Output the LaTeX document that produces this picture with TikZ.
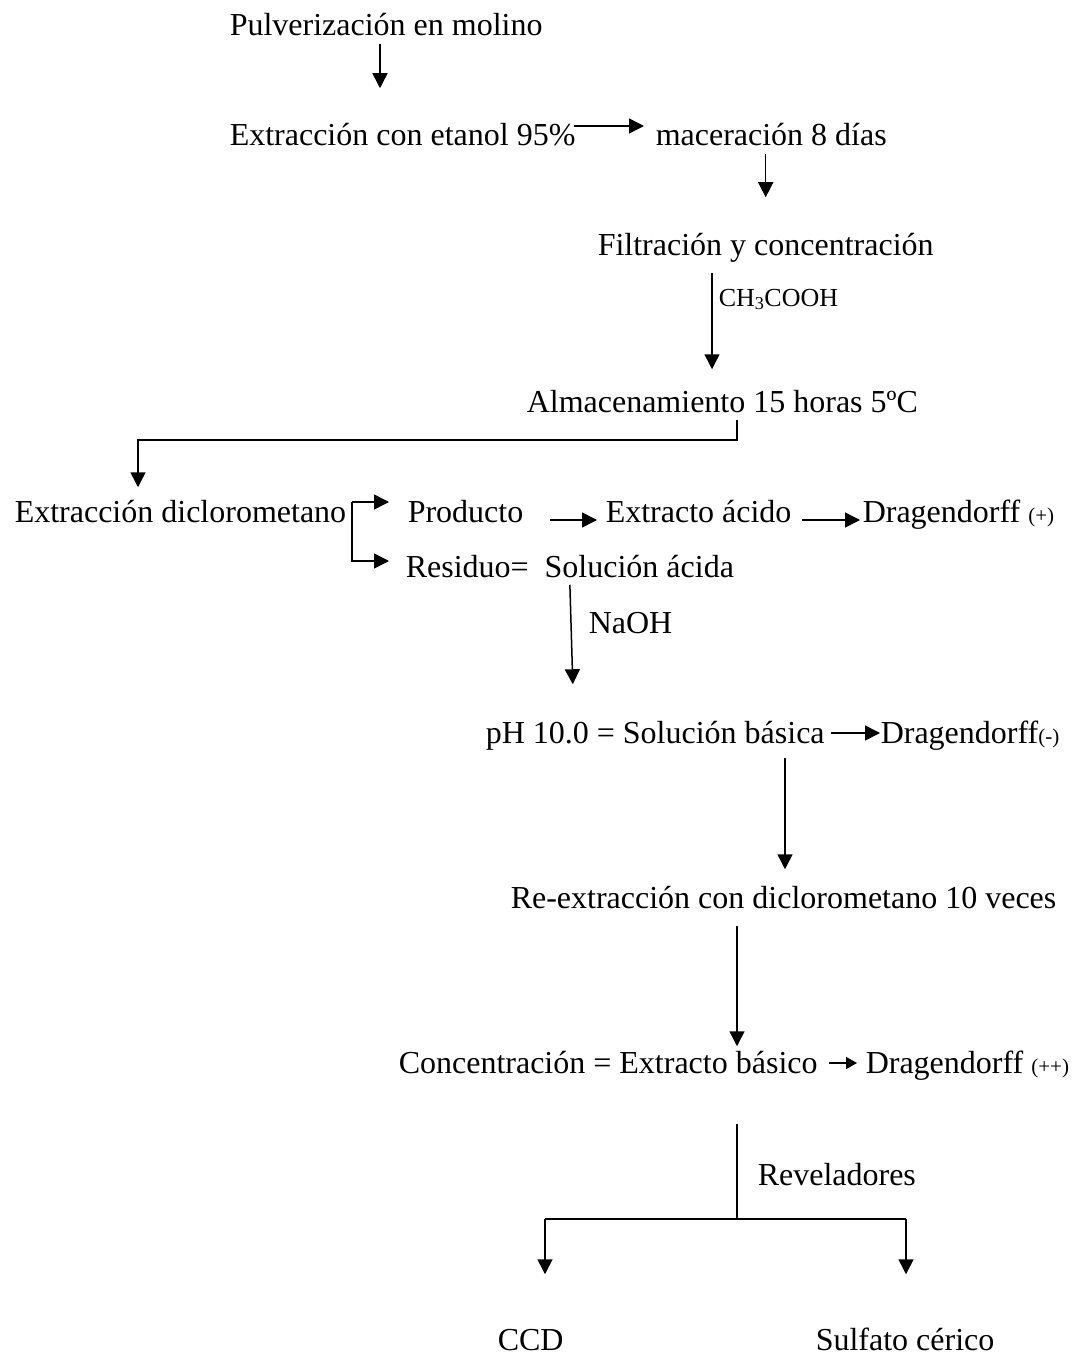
\documentclass[tikz,border=0pt]{standalone}
\usepackage{fontspec}
\setmainfont{Liberation Serif}
\usetikzlibrary{arrows.meta}
\newcommand{\signo}[1]{{\fontsize{21}{24}\selectfont #1}}
\begin{document}
\begin{tikzpicture}[
        x=1pt, y=-1pt,
        txt/.style = {anchor=base west, inner sep=0pt, text height=23pt, text depth=7pt, font=\fontsize{32}{38}\selectfont},
        lbl/.style = {anchor=base west, inner sep=0pt, font=\fontsize{26}{30}\selectfont},
        arr/.style = {-{Triangle[length=15pt,width=15pt]}},
        arrsmall/.style = {-{Triangle[length=11pt,width=12pt]}},
        line width=1.5pt
    ]
        \useasboundingbox (0,0) rectangle (1085,1356);
        % pasos
        \node[txt] (pulv) at (229,36) {Pulverización en molino};
        \node[txt] (extr) at (229,146) {Extracción con etanol 95\%};
        \node[txt] (mace) at (655,146) {maceración 8 días};
        \node[txt] (filt) at (597,255) {Filtración y concentración};
        \node[txt] (almac) at (526,412) {Almacenamiento 15 horas 5ºC};
        \node[txt] (dicl) at (14,522) {Extracción diclorometano};
        \node[txt] (prod) at (407,522) {Producto};
        \node[txt] (exac) at (605,522) {Extracto ácido};
        \node[txt] (drag1) at (862,522) {Dragendorff \signo{(+)}};
        \node[txt] (resid) at (405,577) {Residuo=\hspace{16pt}Solución ácida};
        \node[txt] (ph) at (485,743) {pH 10.0 = Solución básica};
        \node[txt] (drag2) at (880,743) {Dragendorff\signo{(-)}};
        \node[txt] (reext) at (510,908) {Re-extracción con diclorometano 10 veces};
        \node[txt] (conc) at (398,1073) {Concentración = Extracto básico};
        \node[txt] (drag3) at (865,1073) {Dragendorff \signo{(++)}};
        \node[txt] (ccd) at (497,1350) {CCD};
        \node[txt] (sulf) at (815,1350) {Sulfato cérico};
        % reactivos
        \node[lbl] (acet) at (718,306) {CH\textsubscript{3}COOH};
        \node[txt] (naoh) at (588,633) {NaOH};
        \node[txt] (revel) at (757,1185) {Reveladores};
        % columnas y quiebres
        \coordinate (col1) at (380,0);
        \coordinate (col2) at (712,0);
        \coordinate (col3) at (785,0);
        \coordinate (col4) at (737,0);
        \coordinate (k1) at (737,440);
        \coordinate (k2) at (138,440);
        \coordinate (br1) at (352,502);
        \coordinate (br2) at (352,561);
        \coordinate (fork) at (737,1219);
        \coordinate (forkL) at (545,1219);
        \coordinate (forkR) at (906,1219);
        % flechas
        \draw[arr, shorten >=34pt] (pulv.south -| col1) -- (extr.north -| col1);
        \draw[arr, shorten <=-2pt, shorten >=11pt] ([yshift=12pt]extr.east) -- ([yshift=12pt]extr.east -| mace.west);
        \draw[arr, shorten >=34pt] (mace.south -| filt.north) -- (filt.north);
        \draw[arr, shorten <=10pt, shorten >=19pt] (filt.south -| col2) -- (almac.north -| col2);
        \draw[arr, shorten >=11pt] (almac.south -| k1) -- (k1) -- (k2) -- (dicl.north -| k2);
        \draw[arr, shorten >=18pt] (br1) -- (br1 -| prod.west);
        \draw[arr, shorten >=16pt] (br1) -- (br2) -- (br2 -| resid.west);
        \draw[arr, shorten <=26pt, shorten >=8pt] ([yshift=-6pt]prod.east) -- ([yshift=-6pt]exac.west);
        \draw[arr, shorten <=10pt, shorten >=2pt] ([yshift=-6pt]exac.east) -- ([yshift=-6pt]drag1.west);
        \draw[arr, shorten >=35pt] (resid.south) -- ([xshift=4pt]resid.south |- ph.north);
        \draw[arr, shorten <=6pt] ([yshift=2pt]ph.east) -- ([yshift=2pt]drag2.west);
        \draw[arr, shorten <=7pt, shorten >=15pt] (ph.south -| col3) -- (reext.north -| col3);
        \draw[arr, shorten <=10pt, shorten >=3pt] (reext.south -| col4) -- (conc.north -| col4);
        \draw[arrsmall, shorten <=11pt, shorten >=8pt] ([yshift=2pt]conc.east) -- ([yshift=2pt]drag3.west);
        \draw[shorten <=43pt] (conc.south -| fork) -- (fork);
        \draw (forkL) -- (forkR);
        \draw[arr, shorten >=52pt] (forkL) -- (forkL |- ccd.north);
        \draw[arr, shorten >=52pt] (forkR) -- (forkR |- sulf.north);
    \end{tikzpicture}
\end{document}
